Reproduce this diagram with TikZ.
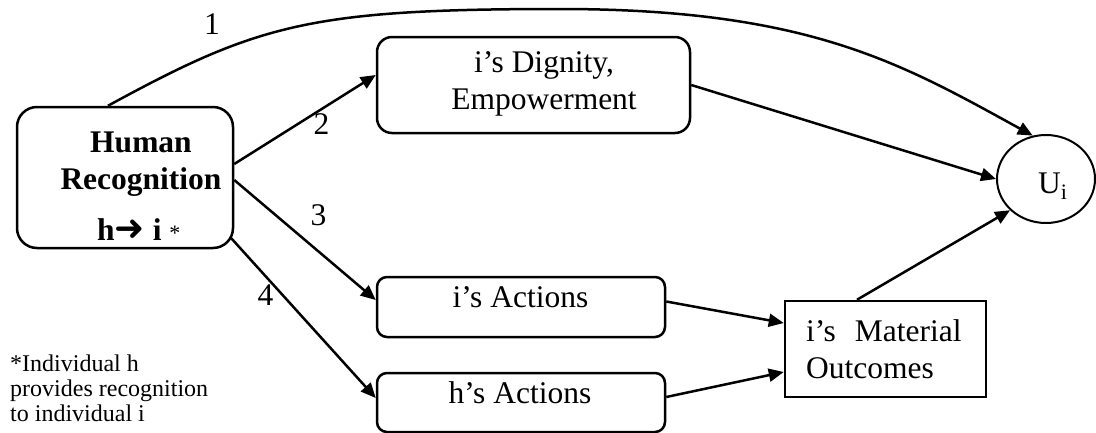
\documentclass[tikz,border=0pt]{standalone}
\usepackage{fontspec}
\setmainfont{Liberation Serif}
\newfontfamily\arrowfont{DejaVu Sans}
\usetikzlibrary{arrows.meta,shapes.geometric}

\newcommand\mainsize{\fontsize{31.5}{37}\selectfont}
\newcommand\notesize{\fontsize{24}{25}\selectfont}

\begin{document}
\begin{tikzpicture}[x=1pt, y=-1pt, font=\mainsize,
    every node/.style={inner sep=0pt},
    rbox/.style={draw, line width=2.5pt, rounded corners=#1},
    rbox/.default=10pt,
    link/.style={line width=2.5pt, -{Triangle[length=15pt,width=13pt]}}]
  \useasboundingbox (0,0) rectangle (1096,432);

  % Boxes
  \node[rbox=20pt, minimum width=216pt, minimum height=141pt] (hr) at (125,177.5) {};
  \node[rbox=15pt, minimum width=313pt, minimum height=96pt] (dig) at (533.5,85) {};
  \node[rbox, minimum width=288pt, minimum height=60pt] (ia) at (521,307) {};
  \node[rbox, minimum width=288pt, minimum height=59pt] (ha) at (521,402.5) {};
  \node[draw, line width=2.5pt, minimum width=201pt, minimum height=96pt] (mo) at (885.5,349) {};
  \node[draw, ellipse, line width=2pt, minimum width=98pt, minimum height=88pt] (ui) at (1046,179) {};

  % Box texts
  \node[font=\mainsize\bfseries, anchor=base] (hrtop) at (141,152) {Human};
  \node[font=\mainsize\bfseries, anchor=base] (hrmid) at (141,189) {Recognition};
  \node[anchor=base west] (hrbot) at (97,240)
    {\textbf{h}{\arrowfont\fontsize{36}{36}\selectfont ➜} \textbf{i} {\fontsize{22}{22}\selectfont *}};
  \node[align=center, anchor=north] (digtxt) at (544,51.5) {i's Dignity,\\Empowerment};
  \node[anchor=base] (iatxt) at (520.5,307) {i's Actions};
  \node[anchor=base] (hatxt) at (520,403) {h's Actions};
  \node[align=left, anchor=north west] (motxt) at (806,319.5) {i's\hspace{0.6em}Material\\Outcomes};
  \node[anchor=base west] (uitxt) at (1038,193) {U\textsubscript{i}};
  \node[font=\notesize, align=left, anchor=north west] (note) at (10,354.5)
    {*Individual h\\provides recognition\\to individual i};

  % Path 1 goes over the top
  \coordinate (arc1) at (560,9);
  \draw[link] ([xshift=-17pt]hr.north) .. controls (258,24) and (310,9) .. (arc1)
    .. controls (810,9) and (903,64.5) .. (ui.107);

  % Paths 2 to 4
  \draw[link] ([yshift=13.5pt]hr.east) -- ([yshift=10pt]dig.west);
  \draw[link] ([yshift=-2.5pt]hr.east) -- ([yshift=7pt]ia.west);
  \draw[link] ([xshift=-3pt,yshift=11pt]hr.south east) -- ([yshift=4.5pt]ha.west);

  \draw[link] (dig.east) -- (ui.west);
  \draw[link] ([yshift=5.5pt]ia.east) -- ([yshift=26pt]mo.west);
  \draw[link] ([yshift=5.5pt]ha.east) -- ([yshift=-23pt]mo.west);
  \draw[link] ([xshift=-28.5pt]mo.north) -- (ui.221);

  % Path numbers
  \node (n1) at (212,24) {1};
  \node (n2) at (321.5,124) {2};
  \node (n3) at (318.5,215) {3};
  \node (n4) at (265.5,295) {4};
\end{tikzpicture}
\end{document}
